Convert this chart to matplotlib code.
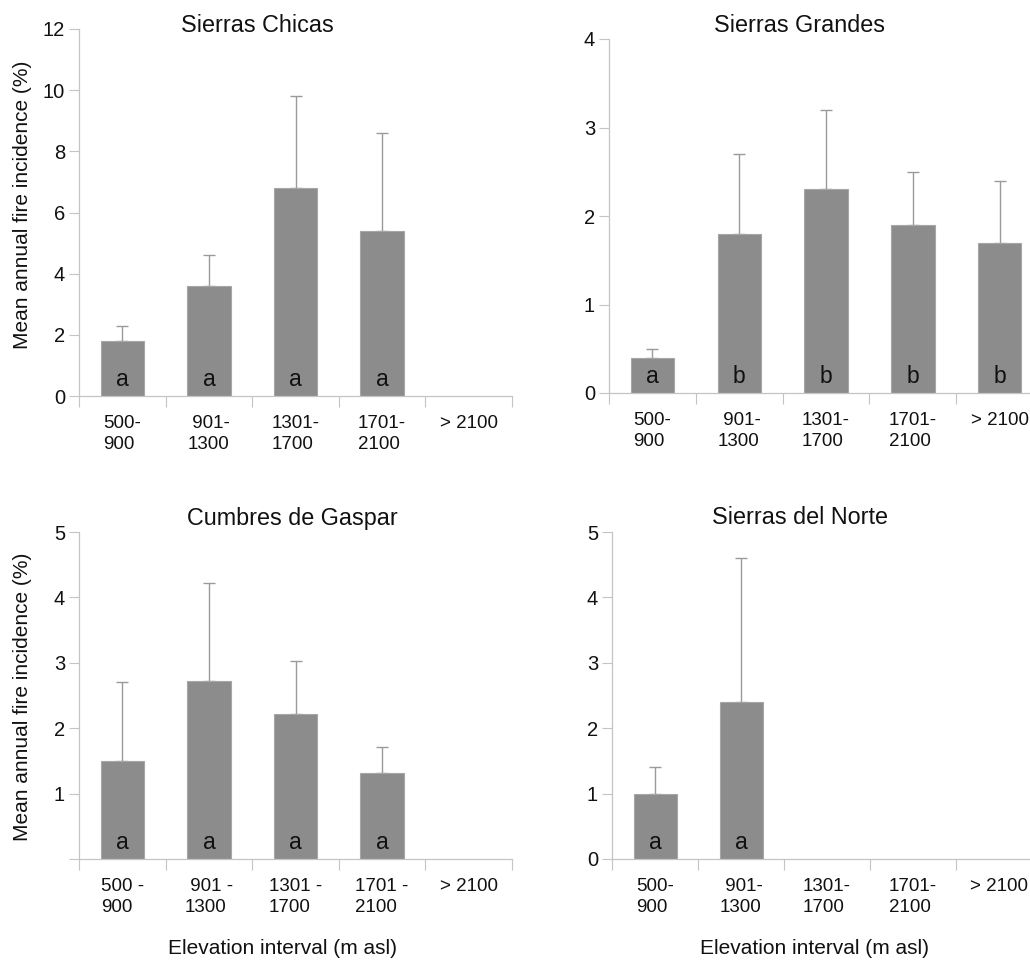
import numpy as np
import matplotlib.pyplot as plt

plt.rcParams["font.family"] = ["Liberation Sans", "DejaVu Sans"]

# categories (elevation intervals, m asl)
labels_a = ["500-\n900", " 901-\n1300", "1301-\n1700", "1701-\n2100", "> 2100"]
labels_b = ["500 -\n900", " 901 -\n1300", "1301 -\n1700", "1701 -\n2100", "> 2100"]

# mean annual fire incidence (%) and upper error limit, per range
chicas_mean = [1.8, 3.6, 6.8, 5.4, np.nan]
chicas_top = [2.3, 4.6, 9.8, 8.6, np.nan]
chicas_letters = ["a", "a", "a", "a", ""]

grandes_mean = [0.4, 1.8, 2.3, 1.9, 1.7]
grandes_top = [0.5, 2.7, 3.2, 2.5, 2.4]
grandes_letters = ["a", "b", "b", "b", "b"]

gaspar_mean = [1.5, 2.72, 2.21, 1.31, np.nan]
gaspar_top = [2.7, 4.22, 3.02, 1.72, np.nan]
gaspar_letters = ["a", "a", "a", "a", ""]

norte_mean = [1.0, 2.4, np.nan, np.nan, np.nan]
norte_top = [1.4, 4.6, np.nan, np.nan, np.nan]
norte_letters = ["a", "a", "", "", ""]

W, H = 1030, 960
fig = plt.figure(figsize=(W / 100, H / 100), dpi=100)


def px_axes(left, right, top, bottom):
    return fig.add_axes([left / W, 1 - bottom / H, (right - left) / W, (bottom - top) / H])


panels = [
    # (axes box px, title, title pos, means, tops, letters, ylim, yticks, hide zero, xlabels)
    ((79, 512, 29, 396), "Sierras Chicas", (257, 25), chicas_mean, chicas_top,
     chicas_letters, 12, range(0, 13, 2), False, labels_a),
    ((609, 1043, 39, 393), "Sierras Grandes", (800, 25), grandes_mean, grandes_top,
     grandes_letters, 4, range(0, 5), False, labels_a),
    ((79, 512, 532, 859), "Cumbres de Gaspar", (292, 518), gaspar_mean, gaspar_top,
     gaspar_letters, 5, range(0, 6), True, labels_b),
    ((612, 1042, 532, 859), "Sierras del Norte", (800, 518), norte_mean, norte_top,
     norte_letters, 5, range(0, 6), False, labels_a),
]

spine_col = "#c4c4c4"

for box, title, tpos, means, tops, letters, ymax, yticks, hide0, xlabels in panels:
    ax = px_axes(*box)
    x = np.arange(len(xlabels))
    means = np.array(means, dtype=float)
    tops = np.array(tops, dtype=float)
    ok = ~np.isnan(means)

    ax.bar(x[ok], means[ok], width=0.5, color="#8c8c8c", edgecolor="#a6a6a6",
           linewidth=0.8, zorder=2)
    err = tops[ok] - means[ok]
    eb = ax.errorbar(x[ok], means[ok], yerr=[np.zeros_like(err), err], fmt="none",
                     ecolor="#9a9a9a", elinewidth=1.0, capsize=4, capthick=1.0, zorder=1)
    for cap in eb[1]:
        cap.set_color("#555555")

    for xi, letter in zip(x, letters):
        if letter:
            ax.annotate(letter, (xi, 0), xytext=(0, 7), textcoords="offset points",
                        ha="center", va="baseline", fontsize=16.5, color="#111111")

    ax.set_xlim(-0.5, len(xlabels) - 0.5)
    ax.set_ylim(0, ymax)
    ax.set_yticks(list(yticks))
    ylabs = [str(t) for t in yticks]
    if hide0:
        ylabs[0] = ""
    ax.set_yticklabels(ylabs)

    ax.set_xticks(np.arange(-0.5, len(xlabels)), labels=[""] * (len(xlabels) + 1))
    ax.set_xticks(x, minor=True)
    ax.set_xticklabels(xlabels, minor=True, multialignment="left", fontsize=13.5,
                       color="#111111", va="top", linespacing=1.25)
    ax.tick_params(axis="x", which="major", length=8, width=0.8, color=spine_col)
    ax.tick_params(axis="x", which="minor", length=0, pad=14)
    ax.tick_params(axis="y", length=7, width=0.8, color=spine_col, labelsize=14.5,
                   labelcolor="#111111", pad=3)

    for side in ("top", "right"):
        ax.spines[side].set_visible(False)
    for side in ("left", "bottom"):
        ax.spines[side].set_color(spine_col)
        ax.spines[side].set_linewidth(0.9)
    ax.patch.set_alpha(0)

    fig.text(tpos[0] / W, 1 - tpos[1] / H, title, ha="center", va="center",
             fontsize=16.8, color="#111111")

# shared axis titles
for yc in (205, 697):
    fig.text(23 / W, 1 - yc / H, "Mean annual fire incidence (%)", rotation=90,
             ha="center", va="center", fontsize=15, color="#111111")
for xc in (283, 815):
    fig.text(xc / W, 1 - 948 / H, "Elevation interval (m asl)", ha="center",
             va="center", fontsize=15, color="#111111")

fig.savefig("out.png", dpi=100, facecolor="white")
